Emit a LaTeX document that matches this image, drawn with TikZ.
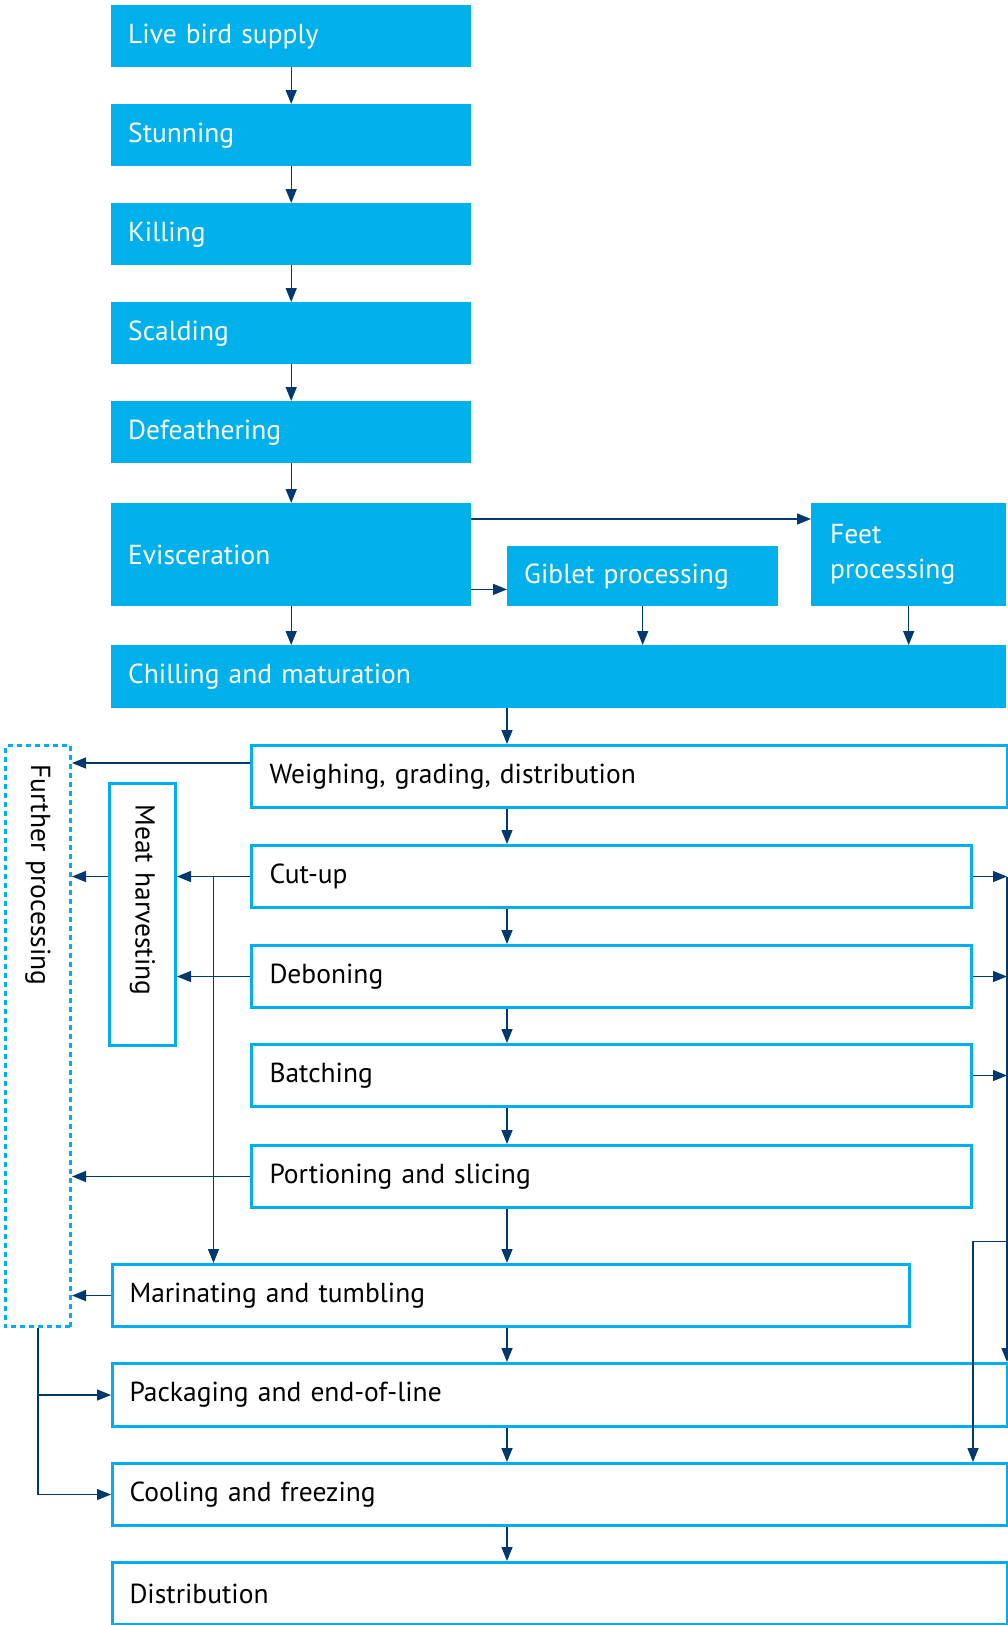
\documentclass[tikz,border=0pt]{standalone}
\usepackage{fontspec}
\setmainfont{PT Sans}
\usepackage{tikz}
\usetikzlibrary{arrows.meta,calc}

\definecolor{procblue}{RGB}{0,176,234}
\definecolor{edgecyan}{RGB}{0,174,239}
\definecolor{flownavy}{RGB}{0,57,112}

\tikzset{
  stage/.style={anchor=north west, rectangle, inner xsep=17pt, inner ysep=2pt,
    align=left, font=\fontsize{27.5}{35}\selectfont},
  solidstage/.style={stage, fill=procblue, text=white},
  openstage/.style={stage, draw=edgecyan, line width=3pt, text=black},
  dashstage/.style={openstage, dash pattern=on 5pt off 4pt},
  flow/.style={draw=flownavy, line width=1.4pt, -{Triangle[length=14pt,width=11pt]}},
}

\begin{document}
\begin{tikzpicture}[x=1pt,y=-1pt]
    \useasboundingbox (0,0) rectangle (1008,1625);

    % Slaughter line
    \node[solidstage, text width=326pt, minimum height=62pt] (live) at (111,5) {Live bird supply};
    \node[solidstage, text width=326pt, minimum height=62pt] (stun) at (111,104) {Stunning};
    \node[solidstage, text width=326pt, minimum height=62pt] (kill) at (111,203) {Killing};
    \node[solidstage, text width=326pt, minimum height=62pt] (scald) at (111,302) {Scalding};
    \node[solidstage, text width=326pt, minimum height=62pt] (defeath) at (111,401) {Defeathering};
    \node[solidstage, text width=326pt, minimum height=103pt] (evisc) at (111,503) {Evisceration};
    \node[solidstage, text width=237pt, minimum height=60pt] (giblet) at (507,546) {Giblet processing};
    \node[solidstage, inner xsep=19pt, text width=157pt, minimum height=103pt] (feet) at (811,503) {Feet\\processing};
    \node[solidstage, text width=861pt, minimum height=63pt] (chill) at (111,645) {Chilling and maturation};

    % Cutting and packing
    \node[openstage, inner xsep=18pt, text width=720pt, minimum height=62pt] (weigh) at (250,744) {Weighing, grading, distribution};
    \node[openstage, inner xsep=18pt, text width=684pt, minimum height=62pt] (cutup) at (250,844) {Cut-up};
    \node[openstage, inner xsep=18pt, text width=684pt, minimum height=62pt] (debone) at (250,944) {Deboning};
    \node[openstage, inner xsep=18pt, text width=684pt, minimum height=62pt] (batch) at (250,1043) {Batching};
    \node[openstage, inner xsep=18pt, text width=684pt, minimum height=62pt] (portion) at (250,1144) {Portioning and slicing};
    \node[openstage, text width=763pt, minimum height=62pt] (marin) at (111,1263) {Marinating and tumbling};
    \node[openstage, text width=861pt, minimum height=63pt] (pack) at (111,1362) {Packaging and end-of-line};
    \node[openstage, text width=861pt, minimum height=62pt] (cool) at (111,1462) {Cooling and freezing};
    \node[openstage, text width=861pt, minimum height=62pt] (distrib) at (111,1561) {Distribution};

    % Side boxes (turned: node north is the right edge, east the bottom)
    \node[openstage, rotate=-90, inner xsep=21pt, text width=220pt, minimum height=66pt] (meat) at (177,782) {Meat harvesting};
    \node[dashstage, rotate=-90, inner xsep=19pt, text width=543pt, minimum height=65pt] (further) at (72,744) {Further processing};

    % Main arrows
    \foreach \a/\b in {live/stun,stun/kill,kill/scald,scald/defeath,defeath/evisc,evisc/chill}
        \draw[flow] (\a.south) -- (\a.south |- \b.north);
    \coordinate (eout1) at ([yshift=-16pt]evisc.north east);
    \coordinate (eout2) at ([yshift=17pt]evisc.south east);
    \draw[flow] (eout1) -- (eout1 -| feet.west);
    \draw[flow] (eout2) -- (eout2 -| giblet.west);
    \foreach \a in {giblet,feet}
        \draw[flow] (\a.south) -- (\a.south |- chill.north);

    \coordinate (col) at (507,0);
    \foreach \a/\b in {chill/weigh,weigh/cutup,cutup/debone,debone/batch,batch/portion,portion/marin,marin/pack,pack/cool,cool/distrib}
        \draw[flow] (\a.south -| col) -- (\b.north -| col);

    % Left branches
    \coordinate (wout) at ([yshift=-19pt]weigh.north west);
    \draw[flow] (wout) -- (wout -| further.north);
    \draw[flow] (cutup.west) -- (meat.north |- cutup.west);
    \draw[flow] (meat.south |- cutup.west) -- (further.north |- cutup.west);
    \draw[flow] (debone.west) -- (meat.north |- debone.west);
    \draw[flow] (portion.west) -- (further.north |- portion.west);
    \draw[flow] (marin.west) -- (further.north |- marin.west);
    \coordinate (cutsplit) at ($(meat.north |- cutup.west)!0.5!(cutup.west)$);
    \draw[flow] (cutsplit) -- (cutsplit |- marin.north);
    \draw[flow] (further.east) |- (cool.west);
    \draw[flow] (further.east |- pack.west) -- (pack.west);

    % Right branches
    \coordinate (rline) at ([xshift=-2pt]pack.north east);
    \foreach \s in {cutup,debone,batch}
        \draw[flow] (\s.east) -- (\s.east -| rline);
    \draw[flow] (cutup.east -| rline) -- (rline);
    \coordinate (rsplit) at ($(portion.south)!0.6!(marin.north)$);
    \draw[flow] (rline |- rsplit) -| (cool.north -| cutup.east);
\end{tikzpicture}
\end{document}
